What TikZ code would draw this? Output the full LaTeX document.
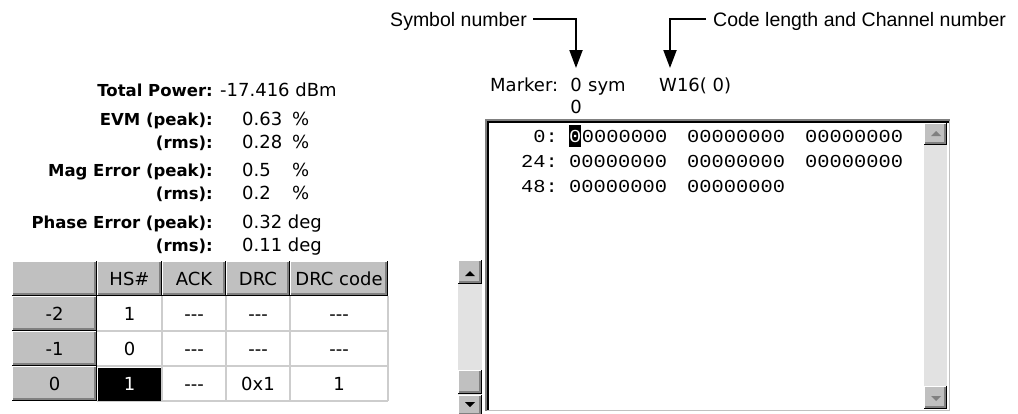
\documentclass[tikz,border=0pt]{standalone}
\usepackage{fontspec}
\setmainfont{DejaVu Sans}
\newfontfamily\callfont{Liberation Sans}
\newfontfamily\monofont[FakeStretch=1.12]{Liberation Mono}
\usetikzlibrary{arrows.meta}
\definecolor{silver}{RGB}{192,192,192}
\definecolor{dkgray}{RGB}{128,128,128}
\definecolor{gridc}{RGB}{205,205,205}
\definecolor{track}{RGB}{226,226,226}
\newcommand{\winbtn}[4]{%
  \fill[silver] (#1,#2) rectangle (#3,#4);
  \draw[white,line width=1.4pt] (#1+0.7,#4-1.4) -- (#1+0.7,#2+0.7) -- (#3-1.4,#2+0.7);
  \draw[dkgray,line width=1.4pt] (#1+1.4,#4-2.1) -- (#3-2.1,#4-2.1) -- (#3-2.1,#2+1.4);
  \draw[black,line width=1.4pt] (#1,#4-0.7) -- (#3-0.7,#4-0.7) -- (#3-0.7,#2);
}
\newcommand{\tdash}{-{}-{}-}
\tikzset{
  lbl/.style={font=\fontsize{16.5}{18}\selectfont\bfseries, anchor=base east, inner sep=0pt},
  val/.style={font=\fontsize{18}{20}\selectfont, anchor=base west, inner sep=0pt},
  cell/.style={font=\fontsize{18}{20}\selectfont, inner sep=0pt, anchor=base},
  ui/.style={font=\fontsize{18}{20}\selectfont, inner sep=0pt},
  mono/.style={font=\monofont\fontsize{18.2}{20}\selectfont, inner sep=0pt},
  callout/.style={font=\callfont\fontsize{19.5}{22}\selectfont, inner sep=0pt},
  callarrow/.style={line width=2pt, -{Triangle[length=18pt,width=13pt]}},
}
\begin{document}
\begin{tikzpicture}[x=1pt,y=-1pt]
\useasboundingbox (0,0) rectangle (1018,413);
\fill[white] (0,0) rectangle (1018,413);
\begin{scope}
\clip (0,0) rectangle (1018,413);

% ---------------- left measurement panel ----------------
\node[lbl] (tp)  at (213,96)  {Total Power:};
\node[val] (tpv) at (220,96)  {-17.416 dBm};
\node[lbl] (ep)  at (213,125) {EVM (peak):};
\node[val] (epv) at (242,125) {0.63};
\node[val] (epu) at (292,125) {\%};
\node[lbl] (er)  at (213,148) {(rms):};
\node[val] (erv) at (242,148) {0.28};
\node[val] (eru) at (292,148) {\%};
\node[lbl] (mp)  at (213,176) {Mag Error (peak):};
\node[val] (mpv) at (242,176) {0.5};
\node[val] (mpu) at (292,176) {\%};
\node[lbl] (mr)  at (213,199) {(rms):};
\node[val] (mrv) at (242,199) {0.2};
\node[val] (mru) at (292,199) {\%};
\node[lbl] (pp)  at (213,228) {Phase Error (peak):};
\node[val] (ppv) at (242,228) {0.32 deg};
\node[lbl] (pr)  at (213,251) {(rms):};
\node[val] (prv) at (242,251) {0.11 deg};

% ---------------- table ----------------
\fill[white] (97,296) rectangle (388,401);
\draw[gridc,line width=1.2pt] (97,331) -- (388,331) (97,366) -- (388,366) (97,401) -- (388,401)
  (162,296) -- (162,401) (226,296) -- (226,401) (290,296) -- (290,401) (388,296) -- (388,401);
\fill[black] (98,368) rectangle (161,401);
\winbtn{12}{261}{97}{296}
\winbtn{97}{261}{162}{296}
\winbtn{162}{261}{226}{296}
\winbtn{226}{261}{290}{296}
\winbtn{290}{261}{388}{296}
\winbtn{12}{296}{97}{331}
\winbtn{12}{331}{97}{366}
\winbtn{12}{366}{97}{401}
\node[cell] (hhs)  at (129.5,285) {HS\#};
\node[cell] (hack) at (194,285) {ACK};
\node[cell] (hdrc) at (258,285) {DRC};
\node[cell] (hcod) at (339,285) {DRC code};
\node[cell] (ra) at (54.5,320) {-2};
\node[cell] (rb) at (54.5,355) {-1};
\node[cell] (rc) at (54.5,390) {0};
\node[cell] (a1) at (129.5,320) {1};
\node[cell] (a2) at (194,320) {\tdash};
\node[cell] (a3) at (258,320) {\tdash};
\node[cell] (a4) at (339,320) {\tdash};
\node[cell] (b1) at (129.5,355) {0};
\node[cell] (b2) at (194,355) {\tdash};
\node[cell] (b3) at (258,355) {\tdash};
\node[cell] (b4) at (339,355) {\tdash};
\node[cell,text=white] (c1) at (129.5,390) {1};
\node[cell] (c2) at (194,390) {\tdash};
\node[cell] (c3) at (258,390) {0x1};
\node[cell] (c4) at (339,390) {1};

% ---------------- left scroll bar ----------------
\fill[track] (458,284) rectangle (482,413);
\winbtn{458}{260}{482}{284}
\fill[black] (465,276) -- (475,276) -- (470,271) -- cycle;
\winbtn{458}{370}{482}{394}
\winbtn{458}{395}{482}{416}
\fill[black] (465,402) -- (475,402) -- (470,407) -- cycle;

% ---------------- code box ----------------
\fill[white] (485,119) rectangle (950,411);
\draw[silver,line width=1.5pt] (485,410.25) -- (949.25,410.25) -- (949.25,119);
\draw[dkgray,line width=1.5pt] (485.75,411) -- (485.75,119.75) -- (950,119.75);
\draw[black,line width=2pt] (488,410) -- (488,122) -- (948.5,122);
\fill[track] (924,123) rectangle (947,409);
\winbtn{924}{123}{947}{145}
\fill[dkgray] (931,136) -- (941,136) -- (936,131) -- cycle;
\winbtn{924}{386}{947}{409}
\fill[dkgray] (931,396) -- (941,396) -- (936,401) -- cycle;

\fill[black] (569,125) rectangle (581,147);
\node[mono,anchor=base east] (l0) at (558,142) {0:};
\node[mono,anchor=base west,text=white] (g0h) at (569,142) {0};
\node[mono,anchor=base west] (g01) at (g0h.base east) {0000000};
\node[mono,anchor=base west] (g02) at (687,142) {00000000};
\node[mono,anchor=base west] (g03) at (805,142) {00000000};
\node[mono,anchor=base east] (l24) at (558,167) {24:};
\node[mono,anchor=base west] (g11) at (569,167) {00000000};
\node[mono,anchor=base west] (g12) at (687,167) {00000000};
\node[mono,anchor=base west] (g13) at (805,167) {00000000};
\node[mono,anchor=base east] (l48) at (558,192) {48:};
\node[mono,anchor=base west] (g21) at (569,192) {00000000};
\node[mono,anchor=base west] (g22) at (687,192) {00000000};

% ---------------- marker line ----------------
\node[ui,anchor=base west] (mk) at (490,91) {Marker:};
\node[ui,anchor=base] (mk0) at (576,91) {0};
\node[ui,anchor=base west] (mksym) at (588,91) {sym};
\node[ui,anchor=base west] (mkw) at (659,91) {W16( 0)};
\node[ui,anchor=base] (mk00) at (576,113) {0};

% ---------------- callouts ----------------
\node[callout,anchor=base east] (symlbl) at (527,26) {Symbol number};
\node[callout,anchor=base west] (codelbl) at (713,26) {Code length and Channel number};
\coordinate (s0) at (533,19);
\coordinate (c0) at (706,19);
\coordinate (tip1) at (576,68);
\coordinate (tip2) at (670,68);
\draw[callarrow] (s0) -| (tip1);
\draw[callarrow] (c0) -| (tip2);
\end{scope}
\end{tikzpicture}
\end{document}
